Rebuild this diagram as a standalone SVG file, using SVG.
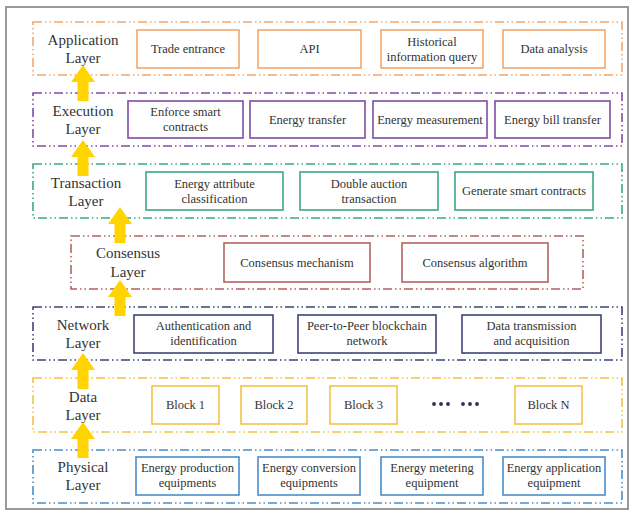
<svg xmlns="http://www.w3.org/2000/svg" width="635" height="513" viewBox="0 0 635 513">
<style>
.layer{fill:none;stroke-width:1.6;stroke-dasharray:9 3 1.5 3 1.5 3}
.item{fill:#fff;stroke-width:1.6}
.lbl{font-family:'Liberation Serif','Times New Roman','DejaVu Serif',serif;font-size:15px;fill:#333;text-anchor:middle}
.txt{font-family:'Liberation Serif','Times New Roman','DejaVu Serif',serif;font-size:12.5px;fill:#333;text-anchor:middle}
.arrow{fill:#FFD400}
.app{stroke:#F2A76F}.exe{stroke:#7D4DA3}.tra{stroke:#3CA981}.con{stroke:#B4625F}.net{stroke:#3C4476}.dat{stroke:#F4C245}.phy{stroke:#4A8DC9}
</style>
<defs>
<path id="arr" d="M0,0 L12,17 L5.5,17 L5.5,36 L-5.5,36 L-5.5,17 L-12,17 Z"/>
</defs>
<rect x="0" y="0" width="635" height="513" fill="#fff"/>
<rect x="6" y="7" width="622" height="502" fill="#fff" stroke="#999" stroke-width="2"/>

<g id="application-layer">
<rect class="layer app" x="33" y="22" width="589" height="53"/>
<text class="lbl" x="83" y="45">Application</text>
<text class="lbl" x="83" y="63">Layer</text>
<rect class="item app" x="137" y="30" width="102" height="38"/>
<text class="txt" x="188" y="53">Trade entrance</text>
<rect class="item app" x="258" y="30" width="103" height="38"/>
<text class="txt" x="309.5" y="53">API</text>
<rect class="item app" x="381" y="30" width="102" height="38"/>
<text class="txt" x="432" y="46">Historical</text>
<text class="txt" x="432" y="61">information query</text>
<rect class="item app" x="503" y="30" width="102" height="38"/>
<text class="txt" x="554" y="53">Data analysis</text>
</g>

<g id="execution-layer">
<rect class="layer exe" x="33" y="93" width="589" height="53"/>
<text class="lbl" x="83" y="116">Execution</text>
<text class="lbl" x="83" y="134">Layer</text>
<rect class="item exe" x="128" y="101" width="115" height="37"/>
<text class="txt" x="185.5" y="116">Enforce smart</text>
<text class="txt" x="185.5" y="131">contracts</text>
<rect class="item exe" x="250" y="101" width="115" height="37"/>
<text class="txt" x="307.5" y="124">Energy transfer</text>
<rect class="item exe" x="373" y="101" width="114" height="37"/>
<text class="txt" x="430" y="124">Energy measurement</text>
<rect class="item exe" x="495" y="101" width="115" height="37"/>
<text class="txt" x="552.5" y="124">Energy bill transfer</text>
</g>

<g id="transaction-layer">
<rect class="layer tra" x="33" y="164" width="589" height="54"/>
<text class="lbl" x="86" y="188">Transaction</text>
<text class="lbl" x="86" y="206">Layer</text>
<rect class="item tra" x="146" y="172" width="137" height="38"/>
<text class="txt" x="214.5" y="188">Energy attribute</text>
<text class="txt" x="214.5" y="203">classification</text>
<rect class="item tra" x="300" y="172" width="138" height="38"/>
<text class="txt" x="369" y="188">Double auction</text>
<text class="txt" x="369" y="203">transaction</text>
<rect class="item tra" x="455" y="172" width="138" height="38"/>
<text class="txt" x="524" y="195">Generate smart contracts</text>
</g>

<g id="consensus-layer">
<rect class="layer con" x="71" y="236" width="512" height="53"/>
<text class="lbl" x="128" y="258">Consensus</text>
<text class="lbl" x="128" y="277">Layer</text>
<rect class="item con" x="224" y="243" width="146" height="39"/>
<text class="txt" x="297" y="267">Consensus mechanism</text>
<rect class="item con" x="402" y="243" width="146" height="39"/>
<text class="txt" x="475" y="267">Consensus algorithm</text>
</g>

<g id="network-layer">
<rect class="layer net" x="33" y="307" width="589" height="53"/>
<text class="lbl" x="83" y="330">Network</text>
<text class="lbl" x="83" y="348">Layer</text>
<rect class="item net" x="134" y="315" width="139" height="38"/>
<text class="txt" x="203.5" y="330">Authentication and</text>
<text class="txt" x="203.5" y="345">identification</text>
<rect class="item net" x="298" y="315" width="138" height="38"/>
<text class="txt" x="367" y="330">Peer-to-Peer blockchain</text>
<text class="txt" x="367" y="345">network</text>
<rect class="item net" x="462" y="315" width="139" height="38"/>
<text class="txt" x="531.5" y="330">Data transmission</text>
<text class="txt" x="531.5" y="345">and acquisition</text>
</g>

<g id="data-layer">
<rect class="layer dat" x="33" y="378" width="589" height="54"/>
<text class="lbl" x="83" y="402">Data</text>
<text class="lbl" x="83" y="420">Layer</text>
<rect class="item dat" x="152" y="386" width="67" height="38"/>
<text class="txt" x="185.5" y="409">Block 1</text>
<rect class="item dat" x="241" y="386" width="66" height="38"/>
<text class="txt" x="274" y="409">Block 2</text>
<rect class="item dat" x="330" y="386" width="67" height="38"/>
<text class="txt" x="363.5" y="409">Block 3</text>
<g fill="#2B2F5A">
<circle cx="434" cy="404" r="1.9"/><circle cx="441" cy="404" r="1.9"/><circle cx="448" cy="404" r="1.9"/>
<circle cx="463" cy="404" r="1.9"/><circle cx="470" cy="404" r="1.9"/><circle cx="477" cy="404" r="1.9"/>
</g>
<rect class="item dat" x="515" y="386" width="67" height="38"/>
<text class="txt" x="548.5" y="409">Block N</text>
</g>

<g id="physical-layer">
<rect class="layer phy" x="33" y="450" width="589" height="53"/>
<text class="lbl" x="83" y="472">Physical</text>
<text class="lbl" x="83" y="490">Layer</text>
<rect class="item phy" x="136" y="457" width="103" height="38"/>
<text class="txt" x="187.5" y="472">Energy production</text>
<text class="txt" x="187.5" y="487">equipments</text>
<rect class="item phy" x="258" y="457" width="102" height="38"/>
<text class="txt" x="309" y="472">Energy conversion</text>
<text class="txt" x="309" y="487">equipments</text>
<rect class="item phy" x="381" y="457" width="102" height="38"/>
<text class="txt" x="432" y="472">Energy metering</text>
<text class="txt" x="432" y="487">equipment</text>
<rect class="item phy" x="503" y="457" width="102" height="38"/>
<text class="txt" x="554" y="472">Energy application</text>
<text class="txt" x="554" y="487">equipment</text>
</g>

<g id="connectors" class="arrow">
<use href="#arr" x="83" y="65"/>
<use href="#arr" x="83" y="140"/>
<use href="#arr" x="120" y="207"/>
<use href="#arr" x="120" y="280"/>
<use href="#arr" x="83" y="353"/>
<use href="#arr" x="83" y="422"/>
</g>
</svg>
